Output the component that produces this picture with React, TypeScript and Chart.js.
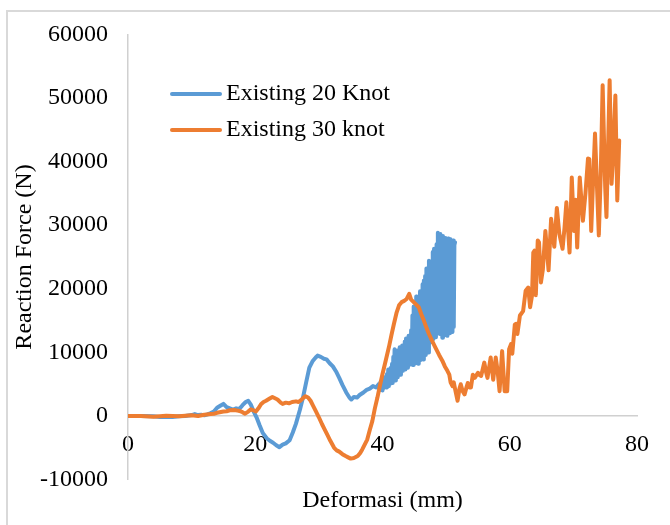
import React, { useEffect, useRef } from "react";
import { Chart, registerables } from "chart.js";

Chart.register(...registerables);

const seriesNames = ["Existing 20 Knot", "Existing 30 knot"];
const seriesColors = ["#5B9BD5", "#ED7D31"];
const xTitle = "Deformasi (mm)";
const yTitle = "Reaction Force (N)";
const xTicks = [0, 20, 40, 60, 80];
const yTicks = [-10000, 0, 10000, 20000, 30000, 40000, 50000, 60000];

// Existing 20 Knot
const blueX = [
  0, 2, 4, 5, 6, 7, 8, 9, 10, 10.5, 11, 11.5, 12, 12.5, 13, 13.5, 14, 14.5, 15, 15.5,
  16, 16.5, 17, 17.5, 18, 18.5, 18.9, 19.3, 19.8, 20.2, 20.7, 21.2, 21.8, 22.3, 22.8, 23.3,
  23.8, 24.3, 24.8, 25.4, 25.9, 26.4, 27.0, 27.5, 28.0, 28.5, 29.0, 29.5, 29.8, 30.3, 30.8,
  31.2, 31.7, 32.2, 32.7, 33.2, 33.7, 34.3, 34.8, 35.1, 35.5, 36.0, 36.4, 37.0, 37.5, 38.0,
  38.5, 39.0, 39.4,
  39.5, 39.6, 39.7, 39.8, 39.9, 40.0, 40.1, 40.2, 40.3, 40.4, 40.5, 40.6, 40.7, 40.8, 40.9,
  41.0, 41.1, 41.2, 41.3, 41.4, 41.5, 41.6, 41.7, 41.8, 41.9, 42.0, 42.1, 42.2, 42.3, 42.4,
  42.5, 42.6, 42.7, 42.8, 42.9, 43.0, 43.1, 43.2, 43.3, 43.4, 43.5, 43.6, 43.7, 43.8, 43.9,
  44.0, 44.1, 44.2, 44.3, 44.4, 44.5, 44.6, 44.7, 44.8, 44.9, 45.0, 45.1, 45.2, 45.3, 45.4,
  45.5, 45.6, 45.7, 45.8, 45.9, 46.0, 46.1, 46.2, 46.3, 46.4, 46.5, 46.6, 46.7, 46.8, 46.9,
  47.0, 47.1, 47.2, 47.3, 47.4, 47.5, 47.6, 47.7, 47.8, 47.9, 48.0, 48.1, 48.2, 48.3, 48.4,
  48.5, 48.6, 48.7, 48.8, 48.9, 49.0, 49.1, 49.2, 49.3, 49.4, 49.5, 49.6, 49.7, 49.8, 49.9,
  50.0, 50.1, 50.2, 50.3, 50.4, 50.5, 50.6, 50.7, 50.8, 50.9, 51.0, 51.1, 51.2, 51.3, 51.4,
];
const blueY = [
  0, 0, -50, -150, -100, -150, -50, 0, 150, 300, 150, 200, 100, 250, 450, 700, 1300, 1600, 1900, 1400,
  1200, 1000, 1200, 1100, 1700, 2200, 2400, 1800, 600, -200, -1500, -2700, -3500, -3900, -4200, -4600,
  -4900, -4500, -4300, -3800, -2600, -1200, 900, 2900, 5300, 7600, 8600, 9200, 9500, 9300, 9000,
  8900, 8300, 7800, 7000, 6000, 4900, 3700, 2900, 2600, 3000, 2900, 3300, 3700, 4100, 4300,
  4700, 4500, 5000,
  4700, 4100, 5400, 4300, 5100, 4000, 5800, 4400, 6100, 4700, 5500, 4500, 6600, 4900, 7300,
  4700, 6800, 5100, 7600, 5400, 8200, 5200, 9300, 5800, 10500, 5600, 9000, 6300, 10300, 6100,
  9700, 7000, 10800, 6500, 9800, 7400, 11100, 7100, 10400, 7700, 11700, 7300, 12200, 7900, 11300,
  7600, 12600, 8400, 11500, 8100, 13500, 8500, 15800, 8000, 17200, 8800, 15500, 8300, 18800, 9200,
  17000, 8200, 18200, 9600, 19600, 8800, 18500, 10100, 20700, 8900, 21300, 10500, 22000, 9600, 23200,
  11200, 22500, 10000, 24400, 12000, 21000, 11600, 24000, 12300, 25800, 12100, 26300, 12700, 24500, 12400,
  27000, 13800, 28800, 13100, 28200, 12900, 28600, 13600, 27400, 12300, 28300, 13900, 27700, 12700, 28000,
  13400, 27200, 12600, 27900, 14100, 27300, 13000, 27800, 13700, 27100, 13200, 27600, 14000, 26900, 27300,
];

// Existing 30 knot
const orangeX = [
  0, 2, 4, 6, 8, 10, 11, 12, 13, 13.5, 14, 15, 15.5, 16, 16.7, 17.2, 17.5, 18, 18.4, 18.9,
  19.3, 19.7, 20.1, 20.5, 20.9, 21.3, 21.7, 22.2, 22.7, 23.1, 23.5, 24.0, 24.3, 24.8, 25.3,
  25.8, 26.4, 26.8, 27.2, 27.6, 27.9, 28.3, 28.7, 29.1, 29.5, 30.0, 30.5, 30.9, 31.3, 31.8,
  32.4, 32.8, 33.2, 33.7, 34.2, 34.6, 35.0, 35.5, 36.1, 36.5, 36.8, 37.2, 37.6, 38.0, 38.4,
  38.8, 39.2, 39.6, 40.0, 40.5, 41.0, 41.4, 41.8, 42.2, 42.6, 43.0, 43.4, 43.8, 44.2, 44.5,
  44.9, 45.3, 45.7, 46.1, 46.5, 46.9, 47.3, 47.8, 48.3, 48.9, 49.4, 49.8, 50.2, 50.5, 50.7,
  51.0, 51.2, 51.5, 51.8, 52.1, 52.3, 52.6, 52.9, 53.2, 53.4, 53.7, 53.9, 54.2, 54.5, 55.0,
  55.3, 55.5, 56.0, 56.3, 56.5, 57.0, 57.4, 57.8, 58.1, 58.4, 58.8, 59.2, 59.6, 59.9, 60.2,
  60.4, 60.8, 61.0, 61.2, 61.6, 62.1, 62.5, 62.9, 63.2, 63.5, 63.7, 63.9, 64.1, 64.4, 64.6,
  64.9, 65.2, 65.6, 66.1, 66.5, 67.0, 67.4, 67.8, 68.3, 68.6, 68.9, 69.4, 69.75, 70.1, 70.35,
  70.6, 71.0, 71.5, 71.9, 72.3, 72.5, 72.8, 73.1, 73.4, 74.0, 74.3, 74.6, 75.0, 75.2, 75.7,
  76.0, 76.2, 76.6, 76.9, 77.2,
];
const orangeY = [
  0, 0, -100, 50, -50, 100, 0, 200, 300, 360, 500, 700, 750, 900, 950, 850, 800, 600, 370, 700,
  1050, 900, 700, 1200, 1840, 2200, 2400, 2700, 3000, 2800, 2600, 2100, 1900, 2100, 2000,
  2200, 2300, 2200, 2500, 2900, 3100, 2900, 2400, 1600, 800, -200, -1300, -2100, -2900, -3900,
  -5000, -5400, -5600, -6000, -6300, -6500, -6700, -6600, -6300, -5800, -5300, -4500, -3700, -2200, -800,
  1200, 2900, 4800, 6600, 8700, 10800, 12700, 14500, 16200, 17400, 17900, 18100, 18400, 19200, 18300,
  17900, 17500, 17100, 16000, 15000, 13900, 12900, 11800, 10800, 9600, 8700, 7800, 7100, 6500, 5300,
  4700, 5300, 3800, 2400, 4300, 5000, 3900, 3400, 4500, 5200, 4500, 4500, 6500, 6000, 6800,
  6400, 6300, 8400, 6800, 6000, 9200, 5700, 9200, 7000, 3900, 10200, 3900, 3900, 10500, 11300,
  9800, 14400, 14500, 12900, 15800, 16500, 19700, 20200, 17100, 18900, 25700, 26000, 19000, 27600, 27300,
  21000, 23000, 29100, 22900, 31000, 26600, 32700, 28600, 26300, 29500, 33600, 25700, 37500, 29100, 34000,
  26500, 37500, 30700, 35000, 40500, 40400, 29100, 37000, 44400, 28400, 38000, 52000, 36000, 31300, 52800,
  36500, 40000, 50400, 33900, 43300,
];

const FONT = '"Liberation Serif", "Times New Roman", serif';

export default function App() {
  const ref = useRef<HTMLCanvasElement>(null);

  useEffect(() => {
    if (!ref.current) return;
    const legendPlugin = {
      id: "manualLegend",
      afterDraw(chart: any) {
        const ctx = chart.ctx;
        ctx.save();
        chart.data.datasets.forEach((ds: any, i: number) => {
          const y = 94 + i * 36;
          ctx.strokeStyle = ds.borderColor;
          ctx.lineWidth = 4;
          ctx.lineCap = "round";
          ctx.beginPath();
          ctx.moveTo(172, y);
          ctx.lineTo(220, y);
          ctx.stroke();
          ctx.fillStyle = "#000";
          ctx.font = `24px ${FONT}`;
          ctx.textBaseline = "middle";
          ctx.textAlign = "left";
          ctx.fillText(ds.label, 226, y);
        });
        ctx.restore();
      },
    };

    const chart = new Chart(ref.current, {
      type: "scatter",
      data: {
        datasets: [
          {
            label: seriesNames[0],
            data: blueX.map((x, i) => ({ x, y: blueY[i] })),
            borderColor: seriesColors[0],
            backgroundColor: seriesColors[0],
            showLine: true,
            pointRadius: 0,
            borderWidth: 4,
            borderJoinStyle: "round",
            borderCapStyle: "round",
            order: 1,
          },
          {
            label: seriesNames[1],
            data: orangeX.map((x, i) => ({ x, y: orangeY[i] })),
            borderColor: seriesColors[1],
            backgroundColor: seriesColors[1],
            showLine: true,
            pointRadius: 0,
            borderWidth: 4,
            borderJoinStyle: "round",
            borderCapStyle: "round",
            order: 0,
          },
        ],
      },
      options: {
        animation: false,
        responsive: false,
        devicePixelRatio: 1,
        layout: { padding: { left: 0, right: 33, top: 33, bottom: 0 } },
        plugins: {
          legend: { display: false },
          tooltip: { enabled: false },
          title: {
            display: true,
            position: "bottom",
            fullSize: false,
            text: xTitle,
            color: "#000",
            font: { family: FONT, size: 24, weight: "normal" },
            padding: { top: 6.6, bottom: 10 },
          },
        },
        scales: {
          x: {
            type: "linear",
            position: { y: 0 },
            min: xTicks[0],
            max: xTicks[xTicks.length - 1],
            afterBuildTicks: (s: any) => {
              s.ticks = xTicks.map((v) => ({ value: v }));
            },
            grid: { display: false, drawTicks: false },
            border: { display: true, color: "#d0d0d0", width: 1.5 },
            ticks: {
              color: "#000",
              font: { family: FONT, size: 24 },
              padding: 14,
              maxRotation: 0,
              callback: (v: any) => String(v),
            },
          },
          y: {
            type: "linear",
            position: "left",
            min: yTicks[0],
            max: yTicks[yTicks.length - 1],
            afterBuildTicks: (s: any) => {
              s.ticks = yTicks.map((v) => ({ value: v }));
            },
            afterFit: (s: any) => {
              s.width = 128;
            },
            grid: { display: false, drawTicks: false },
            border: { display: true, color: "#d0d0d0", width: 1.5 },
            ticks: {
              color: "#000",
              font: { family: FONT, size: 24 },
              padding: 20,
              callback: (v: any) => String(v),
            },
            title: {
              display: true,
              text: yTitle,
              color: "#000",
              font: { family: FONT, size: 24 },
              padding: { top: 10.6, bottom: 0 },
            },
          },
        },
      },
      plugins: [legendPlugin],
    } as any);

    return () => chart.destroy();
  }, []);

  return (
    <div
      style={{
        position: "fixed",
        left: 0,
        top: 0,
        width: 670,
        height: 525,
        background: "#fff",
        overflow: "hidden",
      }}
    >
      <div
        style={{
          position: "absolute",
          left: 6,
          top: 10,
          width: 700,
          height: 600,
          border: "2px solid #d9d9d9",
          boxSizing: "border-box",
        }}
      />
      <canvas
        ref={ref}
        width={670}
        height={525}
        style={{ position: "absolute", left: 0, top: 0, width: 670, height: 525 }}
      />
    </div>
  );
}
